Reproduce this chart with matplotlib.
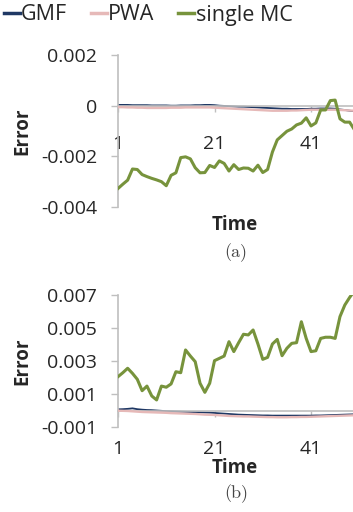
import matplotlib
matplotlib.use('Agg')
import matplotlib.pyplot as plt

# values
time = list(range(1, 51))

gmf_a = [0.00003, 0.00003, 0.00003, 0.00002, 0.00002, 0.00002, 0.00002, 0.00001, 0.00001, 0.00001,
         0.00001, 0.0, 0.0, 0.00001, 0.00001, 0.00001, 0.00002, 0.00002, 0.00003, 0.00003,
         0.00002, 0.0, -0.00001, -0.00002, -0.00003, -0.00004, -0.00004, -0.00005, -0.00006, -0.00007,
         -0.00008, -0.00009, -0.0001, -0.00011, -0.00012, -0.00012, -0.00013, -0.00013, -0.00013, -0.00013,
         -0.00012, -0.00012, -0.00011, -0.00011, -0.00011, -0.00012, -0.00015, -0.00017, -0.0002, -0.00022]
pwa_a = [-0.00006, -0.00006, -0.00007, -0.00007, -0.00008, -0.00008, -0.00009, -0.00009, -0.00009, -0.00009,
         -0.00009, -0.00008, -0.00008, -0.00008, -0.00007, -0.00007, -0.00007, -0.00007, -0.00007, -0.00007,
         -0.00008, -0.00009, -0.0001, -0.00011, -0.00012, -0.00013, -0.00014, -0.00015, -0.00016, -0.00017,
         -0.00018, -0.00019, -0.0002, -0.0002, -0.0002, -0.0002, -0.00019, -0.00019, -0.00018, -0.00017,
         -0.00016, -0.00016, -0.00016, -0.00016, -0.00016, -0.00016, -0.00017, -0.00018, -0.00019, -0.0002]
mc_a = [-0.00327, -0.00310, -0.00294, -0.00250, -0.00252, -0.00272, -0.00280, -0.00287, -0.00293, -0.00300,
        -0.00316, -0.00275, -0.00265, -0.00205, -0.00202, -0.00210, -0.00245, -0.00265, -0.00264, -0.00236,
        -0.00244, -0.00218, -0.00228, -0.00258, -0.00233, -0.00252, -0.00246, -0.00247, -0.00258, -0.00235,
        -0.00264, -0.00252, -0.00183, -0.00135, -0.00118, -0.00101, -0.00092, -0.00076, -0.00069, -0.00048,
        -0.00080, -0.00068, -0.00017, -0.00017, 0.00020, 0.00022, -0.00052, -0.00065, -0.00065, -0.00095]

gmf_b = [0.00007, 0.00008, 0.0001, 0.00013, 0.00008, 0.00005, 0.00003, 0.00002, 0.0, -0.00002,
         -0.00004, -0.00005, -0.00006, -0.00007, -0.00008, -0.00009, -0.0001, -0.00011, -0.00012, -0.00013,
         -0.00015, -0.00017, -0.00019, -0.00021, -0.00023, -0.00025, -0.00026, -0.00027, -0.00028, -0.00029,
         -0.0003, -0.0003, -0.00031, -0.00031, -0.00031, -0.00031, -0.00031, -0.00031, -0.00031, -0.00031,
         -0.00031, -0.0003, -0.0003, -0.00029, -0.00028, -0.00027, -0.00026, -0.00025, -0.00024, -0.00023]
pwa_b = [-0.00001, -0.00002, -0.00003, -0.00005, -0.00007, -0.00009, -0.0001, -0.00011, -0.00012, -0.00013,
         -0.00014, -0.00016, -0.00017, -0.00018, -0.00019, -0.0002, -0.00021, -0.00023, -0.00025, -0.00026,
         -0.00027, -0.00029, -0.00031, -0.00033, -0.00034, -0.00035, -0.00036, -0.00036, -0.00037, -0.00038,
         -0.00039, -0.0004, -0.0004, -0.00041, -0.00041, -0.00041, -0.0004, -0.0004, -0.00039, -0.00039,
         -0.00038, -0.00037, -0.00036, -0.00035, -0.00034, -0.00033, -0.00032, -0.00031, -0.0003, -0.00029]
mc_b = [0.00205, 0.00229, 0.00256, 0.00225, 0.00189, 0.00120, 0.00148, 0.00088, 0.00064, 0.00148,
        0.00141, 0.00161, 0.00235, 0.00229, 0.00367, 0.00330, 0.00296, 0.00165, 0.00110, 0.00165,
        0.00302, 0.00316, 0.00330, 0.00417, 0.00357, 0.00411, 0.00462, 0.00458, 0.00488, 0.00403,
        0.00310, 0.00322, 0.00403, 0.00431, 0.00332, 0.00377, 0.00407, 0.00411, 0.00538, 0.00437,
        0.00357, 0.00362, 0.00437, 0.00444, 0.00444, 0.00437, 0.00569, 0.00639, 0.00685, 0.00725]

series_names = ['GMF', 'PWA', 'single MC']
colors = ['#1F3864', '#E6B9B8', '#77933C']

yticks_a = [-0.004, -0.002, 0, 0.002]
ytick_labels_a = ['-0.004', '-0.002', '0', '0.002']
yticks_b = [-0.001, 0.001, 0.003, 0.005, 0.007]
ytick_labels_b = ['-0.001', '0.001', '0.003', '0.005', '0.007']
xticks = [1, 21, 41]

plt.rcParams['font.family'] = ['Open Sans', 'DejaVu Sans']
plt.rcParams['axes.unicode_minus'] = False

axis_gray = '#BFBFBF'
text_col = '#262626'

fig = plt.figure(figsize=(3.53, 5.12), dpi=100)
ax_a = fig.add_axes([118 / 353, 1 - 207 / 512, 235 / 353, 152 / 512])
ax_b = fig.add_axes([118 / 353, 1 - 427 / 512, 235 / 353, 132 / 512])


def style_axes(ax, yticks, ylabels, ylim):
    ax.set_xlim(1, 49.7)
    ax.set_ylim(*ylim)
    for side in ['top', 'right']:
        ax.spines[side].set_visible(False)
    ax.spines['bottom'].set_position(('data', 0))
    ax.spines['bottom'].set_color(axis_gray)
    ax.spines['left'].set_color(axis_gray)
    ax.spines['bottom'].set_linewidth(1.2)
    ax.spines['left'].set_linewidth(1.2)
    ax.set_yticks(yticks)
    ax.set_yticklabels(ylabels)
    ax.set_xticks(xticks)
    ax.tick_params(axis='y', direction='out', length=5, width=1, color=axis_gray,
                   labelsize=14, labelcolor=text_col, pad=10)
    ax.tick_params(axis='x', direction='out', length=4, width=1, color=axis_gray,
                   labelsize=14, labelcolor=text_col, pad=17)
    ax.set_ylabel('Error', fontsize=13.5, fontweight='bold', color=text_col, labelpad=6)
    ax.patch.set_alpha(0)


def draw(ax, gmf, pwa, mc):
    ax.plot(time, gmf, color=colors[0], lw=1.3, label=series_names[0], zorder=2)
    ax.plot(time, pwa, color=colors[1], lw=1.7, label=series_names[1], zorder=3)
    ax.plot(time, mc, color=colors[2], lw=2.2, label=series_names[2], zorder=4)


draw(ax_a, gmf_a, pwa_a, mc_a)
draw(ax_b, gmf_b, pwa_b, mc_b)
style_axes(ax_a, yticks_a, ytick_labels_a, (-0.004, 0.002))
style_axes(ax_b, yticks_b, ytick_labels_b, (-0.001, 0.007))

fig.text(235 / 353, 1 - 225 / 512, 'Time', ha='center', va='center',
         fontsize=13.5, fontweight='bold', color=text_col)
fig.text(235 / 353, 1 - 468 / 512, 'Time', ha='center', va='center',
         fontsize=13.5, fontweight='bold', color=text_col)
fig.text(236 / 353, 1 - 253 / 512, '(a)', ha='center', va='center',
         fontsize=13, family='cmr10', color='#444444')
fig.text(236 / 353, 1 - 494 / 512, '(b)', ha='center', va='center',
         fontsize=13, family='cmr10', color='#444444')

handles, labels = ax_a.get_legend_handles_labels()
leg = fig.legend(handles, labels, loc='center left', bbox_to_anchor=(4 / 353, 1 - 15 / 512),
                 ncol=3, frameon=False, fontsize=15.5, handlelength=0.75, handletextpad=0.05,
                 columnspacing=1.1, borderaxespad=0, borderpad=0.0)
for line in leg.get_lines():
    line.set_linewidth(2.5)
for t in leg.get_texts():
    t.set_color(text_col)

fig.savefig('out.png', dpi=100)
